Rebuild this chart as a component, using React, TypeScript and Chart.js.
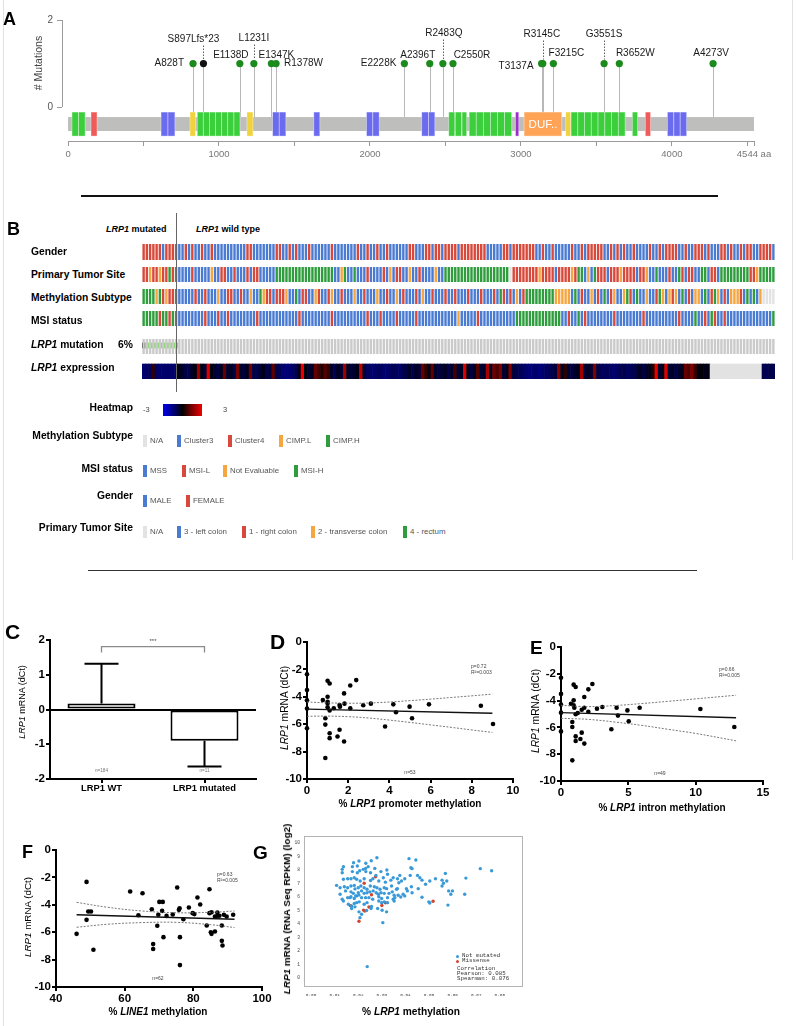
import React, { useEffect, useRef } from 'react';
import { Chart, registerables } from 'chart.js';

Chart.register(...registerables);
const FONT = "'Liberation Sans', Arial, Helvetica, sans-serif";
const MONO = "'Liberation Mono', 'DejaVu Sans Mono', monospace";
Chart.defaults.font.family = FONT;

// ---------------- Panel A data ----------------
const proteinLength = 4544;
const mutationNames = ['A828T', 'S897Lfs*23', 'E1138D', 'L1231I', 'E1347K', 'R1378W', 'E2228K', 'A2396T', 'R2483Q', 'C2550R', 'T3137A', 'R3145C', 'F3215C', 'G3551S', 'R3652W', 'A4273V'];
const mutationPositions = [828, 897, 1138, 1231, 1347, 1378, 2228, 2396, 2483, 2550, 3137, 3145, 3215, 3551, 3652, 4273];
const mutationCounts = [1, 1, 1, 1, 1, 1, 1, 1, 1, 1, 1, 1, 1, 1, 1, 1];
const mutationKinds = ['missense', 'truncating', 'missense', 'missense', 'missense', 'missense', 'missense', 'missense', 'missense', 'missense', 'missense', 'missense', 'missense', 'missense', 'missense', 'missense'];
const domainStarts = [26, 70, 152, 616, 662, 808, 856, 896, 937, 977, 1018, 1058, 1099, 1185, 1355, 1399, 1628, 1977, 2019, 2343, 2388, 2522, 2565, 2610, 2657, 2704, 2751, 2798, 2845, 2892, 2964, 3021, 3297, 3332, 3377, 3421, 3466, 3511, 3556, 3600, 3645, 3738, 3824, 3970, 4013, 4055];
const domainEnds = [70, 113, 192, 662, 708, 844, 896, 937, 977, 1018, 1058, 1099, 1139, 1225, 1399, 1443, 1668, 2019, 2061, 2388, 2430, 2562, 2606, 2641, 2704, 2751, 2798, 2845, 2892, 2939, 2986, 3271, 3330, 3377, 3421, 3466, 3511, 3556, 3600, 3645, 3690, 3773, 3859, 4013, 4055, 4098];
const domainTypes = ['G', 'G', 'R', 'B', 'B', 'Y', 'G', 'G', 'G', 'G', 'G', 'G', 'G', 'Y', 'B', 'B', 'B', 'B', 'B', 'B', 'B', 'G', 'G', 'G', 'G', 'G', 'G', 'G', 'G', 'G', 'P', 'D', 'Y', 'G', 'G', 'G', 'G', 'G', 'G', 'G', 'G', 'G', 'R', 'B', 'B', 'B'];
const axisTicksA = [0, 500, 1000, 1500, 2000, 2500, 3000, 3500, 4000, 4500, 4544];

// ---------------- Panel B data ----------------
const genderRow = ['RRRRRRBRRRR', 'BBRBRBBRBB', 'RBBBBBBBBB', 'BRRBBBBBBB', 'RRBBRBRBBB', 'RBBBBBBRBB', 'BBBBBRBBRB', 'BRBBRBBBBB', 'BRRBBBRRBR', 'RBRRRRBRRR', 'RRRRRBBBBB', 'RRBRRRRRRR', 'BBRBBRBBBB', 'BRBBRBRRRR', 'RBBRBRBRBB', 'RBBBBRBBRB', 'RRRRBBRBBR', 'RRBRBBBRRB', 'RBBRBRRBBR', 'RRRB'].join('');
const siteRow = ['RRORRORRGRG', 'BBBBRBBBBB', 'OBBRRBBRBB', 'BRBRRBBBBB', 'GGGGGGGGGG', 'GGGGGGGGBB', 'OGBBGBBBRB', 'BBBRBOBRRB', 'BOBBRBBBBO', 'BBGGGGGGGG', 'GGGGGGGGGG', 'GGNRRRRRRR', 'RORRRRBRRR', 'RORGGBOBGR', 'RRBRRRORRR', 'RBRROBBGBB', 'BRBBGRBRRB', 'BGGBRRBGGG', 'GGGGGGRROG', 'GGGG'].join('');
const methylRow = ['GGGGOGRORRG', 'BBBBBRBBRB', 'BBOBBRRBBR', 'BBOBBGORRB', 'RRROBBGBRR', 'BBORBBROBB', 'RBBBOBBRBB', 'BOBBRBBOBR', 'BBBRBOBBRB', 'BBRBBRBBBR', 'BBBRBBBRBG', 'RBRBOBRGGG', 'GGGGGGOOOO', 'OBGBRBBOBR', 'BGBROBBOGR', 'BGBBOBBRGO', 'BOROBGBRBO', 'OBGBRGOBRB', 'OOORBGBGBO', 'NNNN'].join('');
const msiRow = ['GGGGGRGGRGG', 'BBBBBBBBRB', 'BBRBBRBBBB', 'BBBBRBBBBB', 'BBBBBBBRBB', 'BBBBBBBRBB', 'BBBBBBBBRB', 'BBRBBBBRBB', 'BBBRBBBBBB', 'BBBBBBOBBB', 'BBRBBBBBBB', 'BBBBGGGGGG', 'GGGGGGGGBB', 'RBBGBRBBBB', 'BBBBRBBBBB', 'BBBRBBBBBB', 'BBBBRBBBBG', 'BBRBGRBBRB', 'BBBBBBBBBB', 'BBBG'].join('');
const mutationStatus = 'TMMMMMMMMMM' + 'W'.repeat(184);
const expressionValues: (number | null)[] = [
  -1.3, -1.2, -1.1, 0.6, -1.15, -1.25, -1.3, -1.25, -1.2, -1.3, -1.25,
  -0.3, -0.5, -0.8, -0.9, -0.4, -0.2, 1.8, -0.3, -0.6, 2.6,
  -0.2, -0.5, -0.8, -0.4, 1.2, -0.6, -0.3, -0.9, 1.4, -0.5,
  -0.7, -0.4, 1.3, -0.8, -0.9, -0.6, -0.3, -0.9, -0.7, 1.1,
  -0.8, -1.0, -1.3, -1.4, -1.35, -1.2, -1.0, -0.3, 2.8, -0.2,
  -0.6, -0.4, 1.2, 0.8, 0.4, 1.0, 0.6, -0.5, -0.9, -0.3,
  -0.6, 1.9, -0.4, -0.7, -0.5, -0.3, 2.2, -0.6, -1.1, -1.2,
  -1.3, -1.15, -1.05, -1.25, -1.35, -1.1, -1.0, -1.15, -1.2, -0.95,
  -0.8, -0.5, -0.9, -0.4, -0.7, 1.2, 0.6, -0.3, 1.1, -0.5,
  -0.8, -0.6, -0.4, -0.9, -0.5, 0.8, -0.7, -0.4, 2.6, -0.3,
  -0.8, -0.4, 1.0, -0.6, -0.5, 2.0, -0.4, 1.3, 0.9, 1.4,
  -0.6, -0.3, 1.5, -0.7, -0.9, -1.0, -1.15, -1.3, -1.4, -1.35,
  -1.25, -1.45, -1.3, -1.15, -1.05, -0.9, -0.7, 1.6, -0.4, 0.5,
  -0.6, -0.8, -0.5, -0.3, 1.9, -0.7, -0.4, -0.6, 1.5, -0.8,
  -1.0, -1.15, -1.05, -1.2, -1.3, -1.1, -1.0, -0.85, -1.15, -1.05,
  -0.95, -0.7, -0.4, -0.8, -0.5, -0.3, 0.4, 2.7, -0.5, -0.3,
  2.6, -0.6, -0.4, -0.8, -0.5, -0.3, 1.2, 0.9, 1.5, 0.7,
  -0.2, -0.1, -0.3, -0.2,
  null, null, null, null, null, null, null, null, null, null, null, null, null, null, null, null,
  -0.9, -1.0, -0.85, -0.9,
];
const sampleIds = genderRow.split('').map((_, i) => `S${i + 1}`);

// ---------------- Panel C data ----------------
const groupLabels = ['LRP1 WT', 'LRP1 mutated'];
const groupMeans = [0.17, -0.9];
const groupErrors = [1.15, 0.74];
const groupN = [184, 11];

// ---------------- Panel D data ----------------
const promoterPoints = [[0.77, -4.24], [1.0, -2.83], [1.1, -3.03], [1.0, -4.0], [1.0, -4.36], [1.0, -4.48], [1.1, -5.0], [1.3, -4.84], [1.0, -4.77], [0.89, -5.57], [0.89, -6.03], [1.1, -6.66], [1.1, -7.02], [0.89, -8.47], [1.48, -6.9], [1.58, -6.4], [1.6, -4.72], [1.58, -4.6], [1.8, -3.75], [1.82, -4.5], [1.8, -7.26], [2.1, -3.17], [2.39, -2.78], [2.1, -4.84], [2.73, -4.62], [3.1, -4.5], [3.79, -6.17], [4.19, -4.55], [4.32, -5.13], [4.98, -4.72], [5.1, -5.57], [5.92, -4.55], [8.44, -4.65], [9.03, -5.98], [0, -2.35], [0, -3.5], [0, -4.25], [0, -4.85], [0, -6.3]];
const promoterFit = [[0, -4.9], [9, -5.2]];
const promoterUpper = [[0, -4.38], [1, -4.44], [2, -4.47], [3, -4.45], [4, -4.38], [5, -4.28], [6, -4.17], [7, -4.05], [8, -3.93], [9, -3.8]];
const promoterLower = [[0, -5.42], [1, -5.41], [2, -5.45], [3, -5.55], [4, -5.7], [5, -5.87], [6, -6.05], [7, -6.23], [8, -6.42], [9, -6.6]];

// ---------------- Panel E data ----------------
const intronPoints = [[0.74, -4.23], [0.94, -2.81], [1.09, -2.99], [0.94, -3.98], [0.94, -4.35], [0.99, -4.53], [1.09, -5.02], [0.84, -5.6], [0.84, -5.97], [1.09, -6.67], [1.09, -7.01], [0.84, -8.46], [1.44, -6.87], [1.54, -6.39], [1.54, -4.68], [1.73, -4.53], [1.73, -3.73], [1.73, -7.21], [2.03, -3.16], [2.33, -2.76], [2.03, -4.83], [1.24, -4.93], [2.67, -4.6], [3.07, -4.48], [3.74, -6.14], [4.13, -4.53], [4.23, -5.12], [4.93, -4.73], [5.03, -5.55], [5.84, -4.53], [10.35, -4.63], [12.87, -5.97], [0, -2.3], [0, -3.5], [0, -4.3], [0, -4.9], [0, -6.3]];
const intronFit = [[0, -4.9], [13, -5.28]];
const intronUpper = [[0, -4.35], [2, -4.45], [4, -4.37], [6, -4.22], [8, -4.05], [10, -3.87], [13, -3.6]];
const intronLower = [[0, -5.32], [2, -5.4], [4, -5.6], [6, -5.85], [8, -6.15], [10, -6.45], [13, -7.0]];

// ---------------- Panel F data ----------------
const linePoints = [[46.0, -6.12], [48.9, -2.33], [48.9, -5.1], [49.4, -4.49], [50.2, -4.49], [50.9, -7.28], [61.6, -3.03], [65.2, -3.16], [64.0, -4.76], [67.9, -4.32], [68.3, -6.87], [68.3, -7.23], [69.5, -5.53], [69.8, -4.73], [70.1, -3.79], [71.1, -3.79], [70.9, -4.44], [71.3, -6.36], [72.2, -4.81], [74.0, -4.71], [75.3, -2.74], [75.8, -4.37], [76.0, -4.25], [76.1, -6.36], [76.1, -8.4], [77.1, -5.05], [78.7, -4.2], [79.8, -4.61], [80.3, -4.68], [81.2, -3.47], [82.0, -3.98], [83.9, -5.51], [84.7, -2.86], [84.7, -4.61], [85.3, -4.54], [85.1, -6.0], [85.3, -6.12], [86.3, -5.95], [86.3, -4.85], [87.0, -4.56], [87.0, -4.8], [87.6, -4.8], [88.3, -5.51], [88.3, -6.63], [88.5, -6.97], [88.9, -4.73], [89.7, -4.85], [91.6, -4.73]];
const lineFit = [[46, -4.73], [92, -5.05]];
const lineUpper = [[46, -3.82], [55, -4.18], [65, -4.45], [75, -4.58], [85, -4.55], [92, -4.45]];
const lineLower = [[46, -5.64], [55, -5.42], [65, -5.3], [75, -5.28], [85, -5.45], [92, -5.66]];

// ---------------- Panel G data ----------------
const notMutatedPoints = [[.0279, 8.91], [.0415, 8.84], [.0444, 8.74], [.0203, 8.67], [.0255, 8.69], [.0180, 8.54], [.0232, 8.5], [.0137, 8.25], [.0175, 8.25], [.0196, 8.3], [.0231, 8.12], [.0242, 8.25], [.0221, 8.05], [.0270, 8.12], [.0321, 8.0], [.0423, 8.17], [.0428, 8.1], [.0717, 8.1], [.0765, 7.95], [.0132, 8.05], [.0132, 7.8], [.0175, 7.88], [.0196, 7.8], [.0206, 7.95], [.0232, 7.88], [.0252, 7.8], [.0275, 7.6], [.0296, 7.88], [.0324, 7.68], [.0348, 7.43], [.0376, 7.6], [.0397, 7.35], [.0420, 7.6], [.0451, 7.6], [.0461, 7.43], [.0470, 7.25], [.0503, 7.19], [.0527, 7.35], [.0555, 7.25], [.0569, 7.75], [.0575, 7.19], [.0656, 7.4], [.0137, 7.31], [.0155, 7.35], [.0169, 7.35], [.0183, 7.43], [.0193, 7.31], [.0208, 7.19], [.0225, 7.35], [.0252, 7.22], [.0262, 7.35], [.0287, 7.19], [.0306, 7.43], [.0315, 7.1], [.0338, 7.25], [.0366, 7.35], [.0372, 7.06], [.0383, 7.19], [.0108, 6.86], [.0123, 6.69], [.0141, 6.76], [.0155, 6.69], [.0169, 6.82], [.0183, 6.86], [.0186, 6.6], [.0200, 6.69], [.0211, 6.82], [.0225, 6.69], [.0237, 6.57], [.0251, 6.82], [.0268, 6.76], [.0279, 6.69], [.0292, 6.57], [.0310, 6.69], [.0320, 6.62], [.0341, 6.82], [.0362, 6.57], [.0366, 6.62], [.0404, 6.62], [.0425, 6.76], [.0454, 6.62], [.0485, 6.94], [.0555, 6.82], [.0561, 7.02], [.0123, 6.2], [.0146, 6.45], [.0169, 6.38], [.0179, 6.27], [.0189, 6.08], [.0200, 6.32], [.0214, 6.45], [.0225, 6.27], [.0237, 6.32], [.0249, 6.38], [.0263, 6.45], [.0276, 6.32], [.0285, 6.2], [.0296, 6.32], [.0310, 6.27], [.0330, 6.27], [.0344, 6.38], [.0352, 6.13], [.0369, 6.13], [.0390, 6.2], [.0408, 6.45], [.0428, 6.32], [.0470, 5.98], [.0583, 6.45], [.0599, 6.45], [.0592, 6.2], [.0651, 6.2], [.0132, 5.83], [.0155, 5.95], [.0169, 6.02], [.0183, 5.89], [.0193, 6.08], [.0203, 6.14], [.0214, 5.95], [.0231, 5.95], [.0245, 5.95], [.0261, 5.83], [.0287, 6.02], [.0299, 5.89], [.0324, 5.95], [.0348, 5.83], [.0355, 5.95], [.0380, 6.0], [.0397, 6.08], [.0137, 5.7], [.0165, 5.95], [.0158, 5.46], [.0172, 5.33], [.0183, 5.52], [.0193, 5.58], [.0204, 5.64], [.0225, 5.46], [.0237, 5.58], [.0256, 5.3], [.0287, 5.7], [.0299, 5.58], [.0310, 5.64], [.0324, 5.58], [.0352, 5.7], [.0499, 5.64], [.0503, 5.55], [.0580, 5.4], [.0172, 5.15], [.0186, 5.27], [.0203, 4.9], [.0235, 5.0], [.0254, 5.15], [.0282, 5.15], [.0301, 5.02], [.0320, 4.9], [.0214, 4.72], [.0207, 4.47], [.0304, 4.1], [.0238, 0.84]];
const missensePoints = [[.0273, 7.5], [.0225, 7.02], [.0256, 6.17], [.0167, 5.35], [.0245, 5.26], [.0315, 5.57], [.0300, 5.37], [.0222, 5.03], [.0227, 4.96], [.0203, 4.2], [.0517, 5.69]];
const gXTicks = [0, 0.01, 0.02, 0.03, 0.04, 0.05, 0.06, 0.07, 0.08];
const gYTicks = [0, 1, 2, 3, 4, 5, 6, 7, 8, 9, 10];

// ---------------- styling ----------------
const BLUE = '#4a7bd3';
const RED = '#d8493b';
const ORANGE = '#f5a640';
const GREEN = '#2f9d3d';
const NA = '#e3e3e3';
const catColor: Record<string, string> = { B: BLUE, R: RED, O: ORANGE, G: GREEN, N: NA };
const domainColor: Record<string, string> = { G: '#3ccf3c', B: '#6b6bf0', R: '#f05a5a', Y: '#f0d23c', P: '#9a32cc', D: '#ffa457' };
const TRACK = [-0.23, -0.55];
const DOMAIN = [-0.115, -0.667];
const mutationLabelLayout = [
  { dx: -9, dy: 0, align: 'right' },
  { dx: -10, dy: -24, align: 'center', lead: true },
  { dx: -9, dy: -8, align: 'center' },
  { dx: 0, dy: -25, align: 'center', lead: true },
  { dx: 5, dy: -8, align: 'center' },
  { dx: 8, dy: 0, align: 'left' },
  { dx: -8, dy: 0, align: 'right' },
  { dx: -12, dy: -8, align: 'center' },
  { dx: 1, dy: -30, align: 'center', lead: true },
  { dx: 19, dy: -8, align: 'center' },
  { dx: -8, dy: 3, align: 'right' },
  { dx: -1, dy: -29, align: 'center', lead: true },
  { dx: 13, dy: -10, align: 'center' },
  { dx: 0, dy: -29, align: 'center', lead: true },
  { dx: 16, dy: -10, align: 'center' },
  { dx: -2, dy: -10, align: 'center' },
];
const bands: Record<string, number[]> = { gender: [0, 16], site: [23, 38], methyl: [45, 60], msi: [67, 82], mut: [95, 110], mutMark: [99, 104], expr: [120, 135] };

function exprColor(v: number | null) {
  if (v === null) return '#e2e2e2';
  const t = Math.max(-1, Math.min(1, v / 3));
  return t < 0 ? `rgb(0,0,${Math.round(-t * 255)})` : `rgb(${Math.round(t * 255)},0,0)`;
}

const baseOptions = () => ({
  responsive: false,
  maintainAspectRatio: false,
  animation: false as const,
  devicePixelRatio: 1,
  events: [] as any[],
  plugins: { legend: { display: false }, tooltip: { enabled: false } },
});

// ---------------- plugins ----------------
const panelAPlugin = {
  id: 'panelA',
  beforeDatasetsDraw(chart: any) {
    const { ctx, chartArea, scales } = chart;
    const px = (v: number) => scales.x.getPixelForValue(v);
    const py = (v: number) => scales.y.getPixelForValue(v);
    ctx.save();
    ctx.strokeStyle = '#9a9a9a';
    ctx.lineWidth = 1;
    ctx.beginPath();
    ctx.moveTo(chartArea.left + 0.5, py(0));
    ctx.lineTo(chartArea.left + 0.5, py(2));
    ctx.moveTo(px(0), chartArea.bottom + 0.5);
    ctx.lineTo(px(proteinLength), chartArea.bottom + 0.5);
    ctx.stroke();
    ctx.strokeStyle = '#b8b8b8';
    mutationPositions.forEach((p, i) => {
      const xx = Math.round(px(p)) + 0.5;
      ctx.beginPath();
      ctx.moveTo(xx, py(mutationCounts[i]));
      ctx.lineTo(xx, py(TRACK[0]));
      ctx.stroke();
    });
    ctx.fillStyle = '#bebebc';
    ctx.fillRect(px(0), py(TRACK[0]), px(proteinLength) - px(0), py(TRACK[1]) - py(TRACK[0]));
    domainStarts.forEach((s, i) => {
      const x0 = px(s), x1 = px(domainEnds[i]);
      const y0 = py(DOMAIN[0]), y1 = py(DOMAIN[1]);
      ctx.fillStyle = domainColor[domainTypes[i]];
      ctx.fillRect(x0, y0, x1 - x0, y1 - y0);
      ctx.strokeStyle = 'rgba(255,255,255,0.55)';
      ctx.lineWidth = 0.7;
      ctx.strokeRect(x0, y0, x1 - x0, y1 - y0);
      if (domainTypes[i] === 'D') {
        ctx.fillStyle = '#fff';
        ctx.font = `11.5px ${FONT}`;
        ctx.textAlign = 'center';
        ctx.textBaseline = 'middle';
        ctx.fillText('DUF..', (x0 + x1) / 2, (y0 + y1) / 2 + 0.5);
      }
    });
    ctx.restore();
  },
  afterDatasetsDraw(chart: any) {
    const { ctx, scales } = chart;
    ctx.save();
    ctx.font = `10px ${FONT}`;
    ctx.fillStyle = '#1a1a1a';
    ctx.textBaseline = 'middle';
    mutationPositions.forEach((p, i) => {
      const L = mutationLabelLayout[i];
      const x = scales.x.getPixelForValue(p);
      const y = scales.y.getPixelForValue(mutationCounts[i]);
      ctx.textAlign = L.align;
      ctx.fillText(mutationNames[i], x + L.dx, y + L.dy);
      if (L.lead) {
        ctx.strokeStyle = '#333';
        ctx.lineWidth = 0.8;
        ctx.setLineDash([1.5, 1.5]);
        ctx.beginPath();
        ctx.moveTo(Math.round(x) + 0.5, y + L.dy + 6);
        ctx.lineTo(Math.round(x) + 0.5, y - 4);
        ctx.stroke();
        ctx.setLineDash([]);
      }
    });
    ctx.restore();
  },
};

const panelCPlugin = {
  id: 'panelC',
  afterDatasetsDraw(chart: any) {
    const { ctx, scales } = chart;
    const x = scales.x, y = scales.y;
    ctx.save();
    ctx.strokeStyle = '#000';
    ctx.lineWidth = 2;
    groupMeans.forEach((m, i) => {
      const cx = x.getPixelForValue(i);
      const end = m + Math.sign(m) * groupErrors[i];
      ctx.beginPath();
      ctx.moveTo(cx, y.getPixelForValue(m));
      ctx.lineTo(cx, y.getPixelForValue(end));
      ctx.moveTo(cx - 17, y.getPixelForValue(end));
      ctx.lineTo(cx + 17, y.getPixelForValue(end));
      ctx.stroke();
      ctx.fillStyle = '#777';
      ctx.font = `4.6px ${FONT}`;
      ctx.textAlign = 'center';
      ctx.textBaseline = 'middle';
      ctx.fillText('n=' + groupN[i], cx, y.getPixelForValue(-1.76));
    });
    const x0 = x.getPixelForValue(0), x1 = x.getPixelForValue(1);
    const yb = y.getPixelForValue(1.81), yl = y.getPixelForValue(1.64);
    ctx.strokeStyle = '#8a8a8a';
    ctx.lineWidth = 1.3;
    ctx.beginPath();
    ctx.moveTo(x0, yl); ctx.lineTo(x0, yb); ctx.lineTo(x1, yb); ctx.lineTo(x1, yl);
    ctx.stroke();
    ctx.fillStyle = '#444';
    ctx.font = `6px ${FONT}`;
    ctx.textAlign = 'center';
    ctx.textBaseline = 'middle';
    ctx.fillText('***', (x0 + x1) / 2, y.getPixelForValue(1.96));
    ctx.restore();
  },
};

const frameGPlugin = {
  id: 'frameG',
  beforeDatasetsDraw(chart: any) {
    const { ctx, chartArea } = chart;
    ctx.save();
    ctx.strokeStyle = '#b3b3b3';
    ctx.lineWidth = 1;
    ctx.strokeRect(chartArea.left + 0.5, chartArea.top + 0.5, chartArea.right - chartArea.left - 1, chartArea.bottom - chartArea.top - 1);
    ctx.restore();
  },
};

// ---------------- configs ----------------
const configA = () => ({
  type: 'scatter',
  data: {
    datasets: [{
      data: mutationPositions.map((p, i) => ({ x: p, y: mutationCounts[i] })),
      pointRadius: 3.6,
      pointBackgroundColor: mutationKinds.map((k) => (k === 'truncating' ? '#111' : '#1c8a1c')),
      pointBorderWidth: 0,
      clip: false,
    }],
  },
  options: {
    ...baseOptions(),
    layout: { padding: { top: 20, right: 42, left: 0, bottom: 0 } },
    scales: {
      x: {
        type: 'linear', min: -40, max: proteinLength,
        afterBuildTicks: (s: any) => { s.ticks = axisTicksA.map((v) => ({ value: v })); },
        ticks: { autoSkip: false, maxRotation: 0, color: '#777', font: { size: 9.5 }, padding: 3, callback: (v: any) => (v === proteinLength ? `${proteinLength} aa` : v % 1000 === 0 ? String(v) : '') },
        grid: { display: true, drawOnChartArea: false, tickLength: 5, color: '#9a9a9a' },
        border: { display: false },
        afterFit: (s: any) => { s.height = 24; },
      },
      y: {
        type: 'linear', min: -0.78, max: 2,
        afterBuildTicks: (s: any) => { s.ticks = [{ value: 0 }, { value: 2 }]; },
        ticks: { color: '#555', font: { size: 10 }, padding: 4 },
        grid: { display: true, drawOnChartArea: false, tickLength: 5, color: '#9a9a9a' },
        border: { display: false },
        afterFit: (s: any) => { s.width = 62; },
      },
    },
  },
  plugins: [panelAPlugin],
});

const stripeDataset = (row: string, band: number[]) => ({
  data: sampleIds.map(() => band),
  backgroundColor: row.split('').map((c) => catColor[c]),
  barPercentage: 0.74,
  categoryPercentage: 1,
  grouped: false,
  borderWidth: 0,
});

const configB = () => ({
  type: 'bar',
  data: {
    labels: sampleIds,
    datasets: [
      stripeDataset(genderRow, bands.gender),
      stripeDataset(siteRow, bands.site),
      stripeDataset(methylRow, bands.methyl),
      stripeDataset(msiRow, bands.msi),
      { data: sampleIds.map(() => bands.mut), backgroundColor: '#cacaca', barPercentage: 0.74, categoryPercentage: 1, grouped: false, borderWidth: 0 },
      { data: mutationStatus.split('').map((s) => (s === 'W' ? null : bands.mutMark)), backgroundColor: mutationStatus.split('').map((s) => (s === 'T' ? '#111' : '#7ddc5a')), barPercentage: 1, categoryPercentage: 1, grouped: false, borderWidth: 0 },
      { data: sampleIds.map(() => bands.expr), backgroundColor: expressionValues.map(exprColor), barPercentage: 1, categoryPercentage: 1, grouped: false, borderWidth: 0 },
    ],
  },
  options: {
    ...baseOptions(),
    layout: { padding: 0 },
    scales: {
      x: { type: 'category', display: false },
      y: { type: 'linear', min: 0, max: 135, reverse: true, display: false },
    },
  },
});

const configC = () => ({
  type: 'bar',
  data: {
    labels: groupLabels,
    datasets: [{ data: groupMeans, backgroundColor: '#fff', borderColor: '#000', borderWidth: 2, borderSkipped: false, barPercentage: 0.66, categoryPercentage: 1 }],
  },
  options: {
    ...baseOptions(),
    layout: { padding: { top: 20, right: 6, left: 0, bottom: 0 } },
    scales: {
      x: {
        grid: { display: true, drawOnChartArea: false, offset: false, tickLength: 4, color: '#000', lineWidth: 2 },
        border: { color: '#000', width: 2 },
        ticks: { font: { size: 9.4, weight: 'bold' }, color: '#000', padding: 0 },
        afterFit: (s: any) => { s.height = 21; },
      },
      y: {
        min: -2, max: 2,
        ticks: { stepSize: 1, font: { size: 11.5, weight: 'bold' }, color: '#000', padding: 1 },
        grid: { color: (c: any) => (c.tick && c.tick.value === 0 ? '#000' : 'rgba(0,0,0,0)'), lineWidth: 2, tickColor: '#000', tickLength: 4, tickWidth: 2 },
        border: { color: '#000', width: 2 },
        afterFit: (s: any) => { s.width = 50; },
      },
    },
  },
  plugins: [panelCPlugin],
});

const toXY = (arr: number[][]) => arr.map(([x, y]) => ({ x, y }));

function prismScatter(o: any) {
  const axis = (min: number, max: number, step: number) => ({
    type: 'linear', min, max,
    ticks: { stepSize: step, color: '#000', font: { size: 11.5, weight: 'bold' }, padding: 1 },
    grid: { display: true, drawOnChartArea: false, tickLength: 4, color: '#000', lineWidth: 2 },
    border: { display: true, color: '#000', width: 2 },
  });
  return {
    type: 'scatter',
    data: {
      datasets: [
        { data: toXY(o.upper), showLine: true, borderColor: '#6a6a6a', borderWidth: 0.9, borderDash: [2, 1.5], pointRadius: 0, tension: 0.4 },
        { data: toXY(o.lower), showLine: true, borderColor: '#6a6a6a', borderWidth: 0.9, borderDash: [2, 1.5], pointRadius: 0, tension: 0.4 },
        { data: toXY(o.fit), showLine: true, borderColor: '#111', borderWidth: 1.4, pointRadius: 0 },
        { data: toXY(o.points), pointRadius: 2.3, pointBackgroundColor: '#000', pointBorderWidth: 0, clip: false },
      ],
    },
    options: {
      ...baseOptions(),
      layout: { padding: { top: o.padTop, right: o.padRight, left: 0, bottom: 0 } },
      scales: {
        x: { ...axis(o.xMin, o.xMax, o.xStep), afterFit: (s: any) => { s.height = o.xHeight; } },
        y: { ...axis(o.yMin, o.yMax, o.yStep), afterFit: (s: any) => { s.width = o.yWidth; } },
      },
    },
  };
}

const configD = () => prismScatter({ points: promoterPoints, fit: promoterFit, upper: promoterUpper, lower: promoterLower, xMin: 0, xMax: 10, xStep: 2, yMin: -10, yMax: 0, yStep: 2, yWidth: 57, xHeight: 36, padTop: 12, padRight: 12 });
const configE = () => prismScatter({ points: intronPoints, fit: intronFit, upper: intronUpper, lower: intronLower, xMin: 0, xMax: 15, xStep: 5, yMin: -10, yMax: 0, yStep: 2, yWidth: 56, xHeight: 34, padTop: 12, padRight: 24 });
const configF = () => prismScatter({ points: linePoints, fit: lineFit, upper: lineUpper, lower: lineLower, xMin: 40, xMax: 100, xStep: 20, yMin: -10, yMax: 0, yStep: 2, yWidth: 56, xHeight: 39, padTop: 12, padRight: 13 });

const configG = () => ({
  type: 'scatter',
  data: {
    datasets: [
      { data: toXY(notMutatedPoints), pointRadius: 1.7, pointBackgroundColor: '#3a9ad8', pointBorderWidth: 0 },
      { data: toXY(missensePoints), pointRadius: 1.7, pointBackgroundColor: '#d2452f', pointBorderWidth: 0 },
    ],
  },
  options: {
    ...baseOptions(),
    layout: { padding: { top: 10, right: 11, left: 0, bottom: 0 } },
    scales: {
      x: {
        type: 'linear', min: -0.003, max: 0.0898,
        afterBuildTicks: (s: any) => { s.ticks = gXTicks.map((v) => ({ value: v })); },
        ticks: { autoSkip: false, maxRotation: 0, callback: (v: any) => Number(v).toFixed(2), font: { size: 4.4, family: MONO }, color: '#444', padding: 5.5 },
        grid: { display: false, drawTicks: false },
        border: { display: false },
        afterFit: (s: any) => { s.height = 19; },
      },
      y: {
        type: 'linear', min: -0.67, max: 10.52,
        afterBuildTicks: (s: any) => { s.ticks = gYTicks.map((v) => ({ value: v })); },
        ticks: { autoSkip: false, font: { size: 4.6, family: MONO }, color: '#444', padding: 4 },
        grid: { display: false, drawTicks: false },
        border: { display: false },
        afterFit: (s: any) => { s.width = 20; },
      },
    },
  },
  plugins: [frameGPlugin],
});

// ---------------- components ----------------
function ChartCanvas({ left, top, width, height, config }: { left: number; top: number; width: number; height: number; config: () => any }) {
  const ref = useRef<HTMLCanvasElement | null>(null);
  useEffect(() => {
    if (!ref.current) return;
    const chart = new Chart(ref.current, config());
    return () => chart.destroy();
  }, []);
  return <canvas ref={ref} width={width} height={height} style={{ position: 'absolute', left, top, width, height }} />;
}

function Txt({ x, y, align = 'left', size, bold, italic, color = '#000', family = FONT, children }: any) {
  const tx = align === 'left' ? '0' : align === 'center' ? '-50%' : '-100%';
  return (
    <div style={{ position: 'absolute', left: x, top: y, transform: `translate(${tx},-50%)`, fontSize: size, fontWeight: bold ? 'bold' : 'normal', fontStyle: italic ? 'italic' : 'normal', color, fontFamily: family, lineHeight: 1, whiteSpace: 'nowrap' }}>
      {children}
    </div>
  );
}

function VTxt({ x, y, size, bold, color = '#000', children }: any) {
  return (
    <div style={{ position: 'absolute', left: x, top: y, transform: 'translate(-50%,-50%) rotate(-90deg)', fontSize: size, fontWeight: bold ? 'bold' : 'normal', color, fontFamily: FONT, lineHeight: 1, whiteSpace: 'nowrap' }}>
      {children}
    </div>
  );
}

function Line({ x, y, w, h, color }: any) {
  return <div style={{ position: 'absolute', left: x, top: y, width: w, height: h, background: color }} />;
}

const legendRows = [
  { title: 'Methylation Subtype', ty: 436, iy: 441, items: [['N/A', NA, 143], ['Cluster3', BLUE, 177], ['Cluster4', RED, 228], ['CIMP.L', ORANGE, 279], ['CIMP.H', GREEN, 326]] },
  { title: 'MSI status', ty: 469, iy: 471, items: [['MSS', BLUE, 143], ['MSI-L', RED, 182], ['Not Evaluable', ORANGE, 223], ['MSI-H', GREEN, 294]] },
  { title: 'Gender', ty: 496, iy: 501, items: [['MALE', BLUE, 143], ['FEMALE', RED, 186]] },
  { title: 'Primary Tumor Site', ty: 528, iy: 532, items: [['N/A', NA, 143], ['3 - left colon', BLUE, 177], ['1 - right colon', RED, 242], ['2 - transverse colon', ORANGE, 311], ['4 - rectum', GREEN, 403]] },
];

const rowLabels: [any, number][] = [
  ['Gender', 252],
  ['Primary Tumor Site', 275],
  ['Methylation Subtype', 298],
  ['MSI status', 321],
  [<><i>LRP1</i> mutation</>, 345],
  [<><i>LRP1</i> expression</>, 368],
];

export default function App() {
  return (
    <div style={{ position: 'absolute', left: 0, top: 0, width: 796, height: 1026, background: '#fff', overflow: 'hidden', fontFamily: FONT }}>
      {/* faint frame */}
      <Line x={3} y={0} w={1} h={1026} color="#e2e2e2" />
      <Line x={792} y={0} w={1} h={560} color="#e2e2e2" />

      {/* Panel A */}
      <ChartCanvas left={0} top={0} width={796} height={165} config={configA} />
      <Txt x={3} y={18.5} size={18} bold>A</Txt>
      <VTxt x={38} y={63} size={10.5} color="#444"># Mutations</VTxt>
      <Line x={81} y={195} w={637} h={1.5} color="#111" />

      {/* Panel B */}
      <Txt x={7} y={228.5} size={18} bold>B</Txt>
      <Txt x={106} y={229} size={9} bold><i>LRP1</i> mutated</Txt>
      <Txt x={196} y={229} size={9} bold><i>LRP1</i> wild type</Txt>
      {rowLabels.map(([label, y], i) => (
        <Txt key={i} x={31} y={y} size={10.3} bold>{label}</Txt>
      ))}
      <Txt x={118} y={345} size={10.3} bold>6%</Txt>
      <ChartCanvas left={142} top={244} width={633} height={135} config={configB} />
      <Line x={176} y={213} w={1} h={179} color="#666" />

      {/* Legend */}
      <Txt x={133} y={408} align="right" size={10.3} bold>Heatmap</Txt>
      <Txt x={143} y={410} size={7.5} color="#444">-3</Txt>
      <div style={{ position: 'absolute', left: 163, top: 404, width: 39, height: 12, background: 'linear-gradient(to right, #0000f0 0%, #00006a 30%, #000 50%, #6a0000 70%, #f00000 100%)' }} />
      <Txt x={223} y={410} size={7.5} color="#444">3</Txt>
      {legendRows.map((r, ri) => (
        <React.Fragment key={ri}>
          <Txt x={133} y={r.ty} align="right" size={10.3} bold>{r.title}</Txt>
          {r.items.map(([label, color, x]: any, ii: number) => (
            <React.Fragment key={ii}>
              <div style={{ position: 'absolute', left: x, top: r.iy - 6, width: 4, height: 12, background: color }} />
              <Txt x={x + 7} y={r.iy} size={7.9} color="#555">{label}</Txt>
            </React.Fragment>
          ))}
        </React.Fragment>
      ))}
      <Line x={88} y={570} w={609} h={1} color="#333" />

      {/* Panel C */}
      <ChartCanvas left={0} top={620} width={262} height={180} config={configC} />
      <Txt x={5} y={630.5} size={21} bold>C</Txt>
      <VTxt x={22} y={702} size={9}><i>LRP1</i> mRNA (dCt)</VTxt>

      {/* Panel D */}
      <ChartCanvas left={250} top={630} width={275} height={185} config={configD} />
      <Txt x={270} y={640.5} size={21} bold>D</Txt>
      <VTxt x={285} y={708} size={10.3}><i>LRP1</i> mRNA (dCt)</VTxt>
      <Txt x={410} y={804} align="center" size={10} bold>% <i>LRP1</i> promoter methylation</Txt>
      <Txt x={471} y={666} size={5} color="#444">p=0.72</Txt>
      <Txt x={471} y={672} size={5} color="#444">R²=0.003</Txt>
      <Txt x={410} y={772} align="center" size={5} color="#444">n=53</Txt>

      {/* Panel E */}
      <ChartCanvas left={505} top={635} width={282} height={180} config={configE} />
      <Txt x={530} y={646.5} size={19} bold>E</Txt>
      <VTxt x={536} y={711} size={10.3}><i>LRP1</i> mRNA (dCt)</VTxt>
      <Txt x={662} y={808} align="center" size={10} bold>% <i>LRP1</i> intron methylation</Txt>
      <Txt x={719} y={669} size={5} color="#444">p=0.66</Txt>
      <Txt x={719} y={675} size={5} color="#444">R²=0.005</Txt>
      <Txt x={660} y={773} align="center" size={5} color="#444">n=49</Txt>

      {/* Panel F */}
      <ChartCanvas left={0} top={838} width={275} height={188} config={configF} />
      <Txt x={22} y={851.5} size={18} bold>F</Txt>
      <VTxt x={28} y={917} size={9.8}><i>LRP1</i> mRNA (dCt)</VTxt>
      <Txt x={158} y={1012} align="center" size={10} bold>% <i>LINE1</i> methylation</Txt>
      <Txt x={217} y={874} size={5} color="#444">p=0.63</Txt>
      <Txt x={217} y={880} size={5} color="#444">R²=0.005</Txt>
      <Txt x={158} y={978} align="center" size={5} color="#444">n=62</Txt>

      {/* Panel G */}
      <ChartCanvas left={284} top={826} width={250} height={180} config={configG} />
      <Txt x={253} y={851.5} size={19} bold>G</Txt>
      <VTxt x={287} y={909} size={9.9} bold><i>LRP1</i> mRNA (RNA Seq RPKM) (log2)</VTxt>
      <Txt x={411} y={1012} align="center" size={10.2} bold>% <i>LRP1</i> methylation</Txt>
      <div style={{ position: 'absolute', left: 455.5, top: 954.5, width: 3, height: 3, borderRadius: 2, background: '#3a9ad8' }} />
      <Txt x={462} y={956} size={5.8} family={MONO} color="#333">Not mutated</Txt>
      <div style={{ position: 'absolute', left: 455.5, top: 959.5, width: 3, height: 3, borderRadius: 2, background: '#d2452f' }} />
      <Txt x={462} y={961} size={5.8} family={MONO} color="#333">Missense</Txt>
      <Txt x={457} y={969} size={5.8} family={MONO} color="#333">Correlation</Txt>
      <Txt x={457} y={974} size={5.8} family={MONO} color="#333">Pearson: 0.085</Txt>
      <Txt x={457} y={979} size={5.8} family={MONO} color="#333">Spearman: 0.076</Txt>
    </div>
  );
}
